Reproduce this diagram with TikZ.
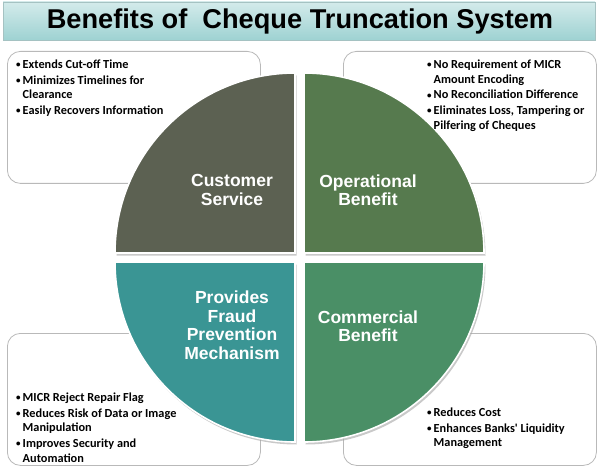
\documentclass[tikz,border=0pt]{standalone}
\usepackage{fontspec}
\setmainfont{Liberation Sans}
\newfontfamily\listfont{Carlito}
\usepackage{tikz}
\definecolor{custgrey}{HTML}{5C6152}
\definecolor{opgreen}{HTML}{567A4E}
\definecolor{fraudteal}{HTML}{3A9594}
\definecolor{commgreen}{HTML}{4A8F66}
\definecolor{titleteal}{HTML}{9ED2D2}
\newcommand{\bl}{\raisebox{0.8pt}{\fontsize{9}{9}\selectfont\textbullet}\,}
\newcommand{\ind}{\phantom{\bl}}
\tikzset{
    infobox/.style={draw=gray!55, line width=0.8pt, rounded corners=13pt, fill=white,
                    anchor=north west, inner sep=0pt},
    quad/.style={draw=white, line width=1.6pt},
    qshadow/.style={fill=black!35, opacity=0.6},
    qlabel/.style={text=white, align=center, font=\bfseries\fontsize{17.5}{18.5}\selectfont},
    blist/.style={align=left, anchor=north west, inner sep=0pt,
                  font=\listfont\bfseries\fontsize{12.3}{14.8}\selectfont},
}

\begin{document}
\begin{tikzpicture}[x=1pt,y=-1pt]
	\useasboundingbox[fill=white] (0,0) rectangle (600,468);
	% title bar
	\shade[top color=titleteal!45!white, bottom color=titleteal, draw=titleteal!80!black!70]
	    (3,2) rectangle (595,40);
	\node[font=\bfseries\fontsize{27.2}{29}\selectfont] (title) at (300,21) {Benefits of \ Cheque Truncation System};
	% text boxes
	\node[infobox, minimum width=253pt, minimum height=132pt] (custbox) at (7,51) {};
	\node[infobox, minimum width=253pt, minimum height=132pt] (opbox) at (343,51) {};
	\node[infobox, minimum width=253pt, minimum height=132pt] (fraudbox) at (7,333) {};
	\node[infobox, minimum width=253pt, minimum height=132pt] (commbox) at (343,333) {};
	% quadrant shadows
	\fill[qshadow] (296.5,255.5) -- ++(-180,0) arc[start angle=180, end angle=270, radius=180] -- cycle;
	\fill[qshadow] (305.5,255.5) -- ++(0,-180) arc[start angle=270, end angle=360, radius=180] -- cycle;
	\fill[qshadow] (305.5,264.5) -- ++(180,0) arc[start angle=0, end angle=90, radius=180] -- cycle;
	\fill[qshadow] (296.5,264.5) -- ++(0,180) arc[start angle=90, end angle=180, radius=180] -- cycle;
	% quadrants
	\filldraw[quad, fill=custgrey] (295,253) -- ++(-180,0) arc[start angle=180, end angle=270, radius=180] -- cycle;
	\filldraw[quad, fill=opgreen] (304,253) -- ++(0,-180) arc[start angle=270, end angle=360, radius=180] -- cycle;
	\filldraw[quad, fill=commgreen] (304,262) -- ++(180,0) arc[start angle=0, end angle=90, radius=180] -- cycle;
	\filldraw[quad, fill=fraudteal] (295,262) -- ++(0,180) arc[start angle=90, end angle=180, radius=180] -- cycle;
	\node[qlabel] (cust) at (232,190) {Customer\\Service};
	\node[qlabel] (oper) at (368,190) {Operational\\Benefit};
	\node[qlabel] (fraud) at (232,325) {Provides\\Fraud\\Prevention\\Mechanism};
	\node[qlabel] (comm) at (368,326) {Commercial\\Benefit};
	% bullet lists
	\node[blist] (custlist) at (16,59.5) {\bl Extends Cut-off Time\\[1pt]
	    \bl Minimizes Timelines for\\ \ind Clearance\\[1pt]
	    \bl Easily Recovers Information};
	\node[blist] (oplist) at (427,59.5) {\bl No Requirement of MICR\\ \ind Amount Encoding\\[1pt]
	    \bl No Reconciliation Difference\\[1pt]
	    \bl Eliminates Loss, Tampering or\\ \ind Pilfering of Cheques};
	\node[blist] (fraudlist) at (16,392.5) {\bl MICR Reject Repair Flag\\[1pt]
	    \bl Reduces Risk of Data or Image\\ \ind Manipulation\\[1pt]
	    \bl Improves Security and\\ \ind Automation};
	\node[blist] (commlist) at (427,407.5) {\bl Reduces Cost\\[1pt]
	    \bl Enhances Banks' Liquidity\\ \ind Management};
\end{tikzpicture}
\end{document}
